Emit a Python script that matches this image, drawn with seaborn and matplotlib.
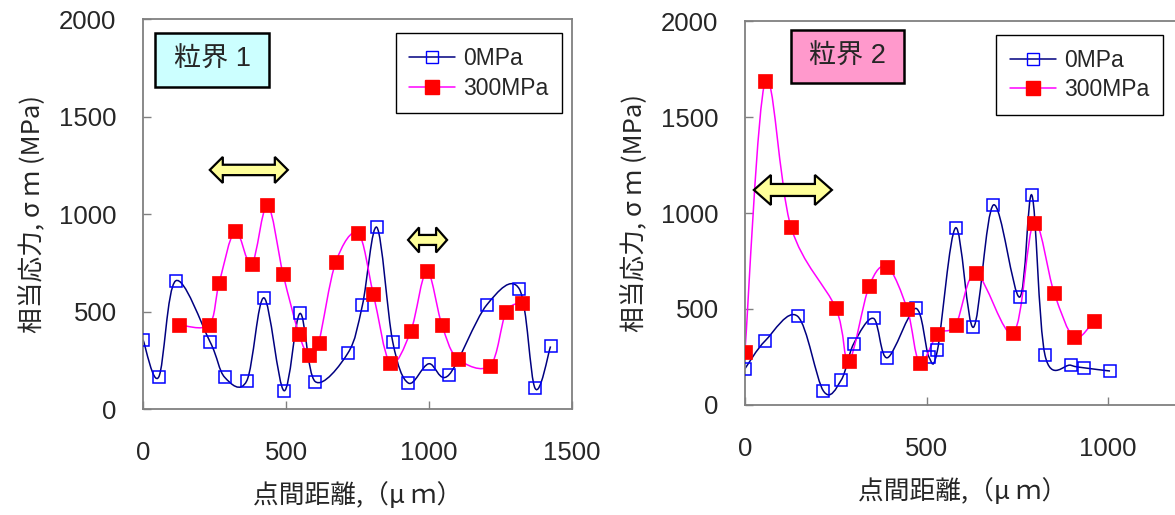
import matplotlib

matplotlib.use("Agg")
import matplotlib.pyplot as plt
import matplotlib.transforms as mtransforms
import numpy as np
import seaborn as sns
from matplotlib.lines import Line2D
from matplotlib.patches import PathPatch, Polygon, Rectangle
from matplotlib.path import Path

sns.set_theme(style="white")
plt.rcParams["font.family"] = ["Liberation Sans", "Noto Sans CJK JP"]

# grain boundary 1
gb1_x0 = [0, 55, 114, 234, 286, 363, 423, 493, 549, 602, 717, 767, 818,
          873, 928, 999, 1069, 1202, 1316, 1371, 1425]
gb1_y0 = [356, 164, 657, 346, 162, 145, 570, 94, 490, 141, 288, 531, 931,
          346, 133, 232, 174, 534, 615, 106, 321]
gb1_x300 = [126, 231, 266, 322, 380, 435, 490, 545, 580, 614, 674, 752, 805,
            864, 936, 992, 1045, 1100, 1214, 1269, 1324]
gb1_y300 = [432, 432, 644, 913, 743, 1047, 690, 386, 278, 340, 753, 902, 592,
            237, 398, 707, 432, 259, 223, 495, 546]

# grain boundary 2
gb2_x0 = [0, 56, 145, 216, 265, 299, 354, 392, 470, 506, 530, 580, 629, 684,
          756, 790, 826, 897, 932, 1005]
gb2_y0 = [189, 335, 462, 73, 130, 318, 451, 246, 503, 252, 286, 923, 405,
          1042, 562, 1092, 259, 207, 194, 177]
gb2_x300 = [0, 56, 127, 250, 286, 342, 392, 447, 481, 530, 580, 636, 739,
            795, 851, 906, 961]
gb2_y300 = [278, 1688, 925, 505, 229, 620, 719, 498, 219, 370, 417, 686, 375,
            948, 585, 352, 439]

labels = ["0MPa", "300MPa"]
panel_titles = ["粒界 1", "粒界 2"]
title_colors = ["#CCFFFF", "#FF99CC"]
x_ticks = [[0, 500, 1000, 1500], [0, 500, 1000]]
x_limits = [(0, 1500), (0, 1200)]
y_ticks = [0, 500, 1000, 1500, 2000]

CJK = ["Noto Sans CJK JP", "Liberation Sans"]


def smooth_line(ax, x, y, color):
    # excel-style smoothed line: cubic bezier through every point
    pts = np.column_stack([x, y]).astype(float)
    n = len(pts)
    verts, codes = [pts[0]], [Path.MOVETO]
    for i in range(n - 1):
        p0, p1 = pts[max(i - 1, 0)], pts[i]
        p2, p3 = pts[i + 1], pts[min(i + 2, n - 1)]
        verts += [p1 + (p2 - p0) / 6, p2 - (p3 - p1) / 6, p2]
        codes += [Path.CURVE4] * 3
    ax.add_patch(PathPatch(Path(verts, codes), fc="none", ec=color, lw=1.1, zorder=2))


def double_arrow(ax, cx, cy, w, h, head):
    sh, hh = h * 0.2, h / 2
    pts = [(-w / 2, 0), (-w / 2 + head, hh), (-w / 2 + head, sh), (w / 2 - head, sh),
           (w / 2 - head, hh), (w / 2, 0), (w / 2 - head, -hh), (w / 2 - head, -sh),
           (-w / 2 + head, -sh), (-w / 2 + head, -hh)]
    tr = mtransforms.Affine2D() + mtransforms.ScaledTranslation(cx, cy, ax.transData)
    ax.add_patch(Polygon(pts, closed=True, fc="#FFFF99", ec="black", lw=1.6,
                         transform=tr, zorder=4))


def draw_panel(ax, x0, y0, x300, y300, k):
    smooth_line(ax, x0, y0, "#000080")
    smooth_line(ax, x300, y300, "#FF00FF")
    sns.lineplot(x=x0, y=y0, ax=ax, sort=False, estimator=None, linestyle="",
                 marker="s", markersize=8.5, markerfacecolor="none",
                 markeredgecolor="#0000FF", markeredgewidth=1.1, zorder=3)
    sns.lineplot(x=x300, y=y300, ax=ax, sort=False, estimator=None, linestyle="",
                 marker="s", markersize=9.5, markerfacecolor="#FF0000",
                 markeredgecolor="#FF0000", markeredgewidth=0.5, zorder=3)

    ax.set_xlim(*x_limits[k])
    ax.set_ylim(0, 2000)
    ax.set_xticks(x_ticks[k])
    ax.set_yticks(y_ticks)
    for s in ax.spines.values():
        s.set_color("#808080")
        s.set_linewidth(1.3)
    ax.tick_params(axis="both", direction="in", length=6, width=1, color="#808080",
                   labelsize=18.5, left=True, bottom=True)
    ax.tick_params(axis="y", pad=19)
    ax.tick_params(axis="x", pad=23)
    ax.set_xlabel("点間距離,（μ ｍ）", fontsize=18.5, labelpad=12, family=CJK)
    ax.set_ylabel("相当応力, σ ｍ (MPa)", fontsize=18.5, labelpad=10, family=CJK)

    handles = [
        Line2D([], [], color="#000080", lw=1.1, marker="s", markersize=8.5,
               markerfacecolor="none", markeredgecolor="#0000FF"),
        Line2D([], [], color="#FF00FF", lw=1.1, marker="s", markersize=9.5,
               markerfacecolor="#FF0000", markeredgecolor="#FF0000"),
    ]
    anchor = [(0.977, 0.964), (0.959, 0.964)][k]
    leg = ax.legend(handles, labels, loc="upper right", bbox_to_anchor=anchor,
                    borderaxespad=0, fontsize=16.5, frameon=True, fancybox=False,
                    handlelength=2.0, handletextpad=0.35, labelspacing=0.3,
                    borderpad=0.6)
    leg.get_frame().set_edgecolor("black")
    leg.get_frame().set_linewidth(1.0)
    leg.get_frame().set_alpha(1)


fig = plt.figure(figsize=(11.75, 5.15), dpi=100)
ax1 = fig.add_axes([0.1217, 0.2058, 0.3651, 0.7573])
ax2 = fig.add_axes([0.634, 0.2136, 0.371, 0.7456])

draw_panel(ax1, gb1_x0, gb1_y0, gb1_x300, gb1_y300, 0)
draw_panel(ax2, gb2_x0, gb2_y0, gb2_x300, gb2_y300, 1)

# panel name boxes
boxes = [(0.028, 0.826, 0.266, 0.138), (0.1055, 0.839, 0.26, 0.138)]
for ax, (bx, by, bw, bh), name, fc in zip([ax1, ax2], boxes, panel_titles, title_colors):
    ax.add_patch(Rectangle((bx, by), bw, bh, transform=ax.transAxes, fc=fc,
                           ec="black", lw=1.8, zorder=5))
    ax.text(bx + bw / 2, by + bh / 2, name, transform=ax.transAxes, ha="center",
            va="center", fontsize=19.5, zorder=6)

double_arrow(ax1, 370, 1226, 78, 26, 13)
double_arrow(ax1, 995, 867, 39, 25, 11)
double_arrow(ax2, 132, 1120, 78, 30, 17)

fig.savefig("out.png", dpi=100)
